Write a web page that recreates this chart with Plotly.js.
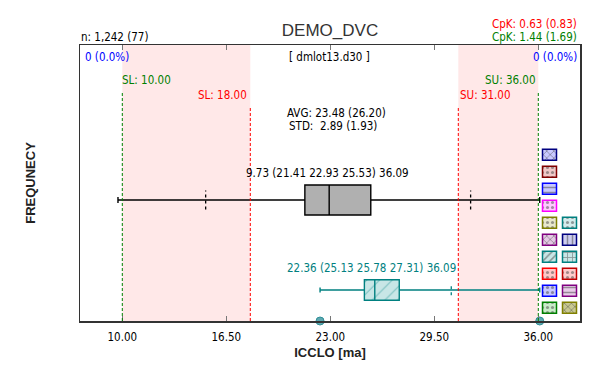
<!DOCTYPE html>
<html><head><meta charset="utf-8">
<script src="https://cdn.plot.ly/plotly-3.0.1.min.js"></script>
<style>html,body{margin:0;padding:0;background:#fff}</style>
</head><body>
<div id="chart" style="width:599px;height:370px"></div>
<script>
// ---------- data ----------
const chartTitle = 'DEMO_DVC';
const xAxisTitle = 'ICCLO [ma]';
const yAxisTitle = 'FREQUNECY';
const xTickVals = [10, 16.5, 23, 29.5, 36];
const xTickText = ['10.00', '16.50', '23.00', '29.50', '36.00'];
const outerSpecs = [10, 36];      // SL / SU (green)
const innerSpecs = [18, 31];      // SL / SU (red)
const lowerFence = [9.73, 22.36];
const q1Vals = [21.41, 25.13];
const medianVals = [22.93, 25.78];
const q3Vals = [25.53, 27.31];
const upperFence = [36.09, 36.09];
const dashMarks1 = [15.21, 31.77];
const dashMarks2 = [30.56];
const axisPoints = [22.36, 36.09];
const avgVals = [23.48, 26.20];
const stdVals = [2.89, 1.93];
const cpkLow = [0.63, 0.83];
const cpkHigh = [1.44, 1.69];
const nTotal = '1,242';
const nLot = 77;
const outCounts = ['0 (0.0%)', '0 (0.0%)'];
const lotName = '[ dmlot13.d30 ]';
// swatch grid (decorative legend cells)
const swatchCol = [0, 0, 0, 0, 0, 1, 0, 1, 0, 1, 0, 1, 0, 1, 0, 1];
const swatchRow = [0, 1, 2, 3, 4, 4, 5, 5, 6, 6, 7, 7, 8, 8, 9, 9];
const swatchLine = ['#000080', '#800000', '#0000ff', '#ff00ff', '#808000', '#008080', '#800080', '#000080', '#008080', '#008080', '#ff0000', '#c00000', '#0000ff', '#800080', '#008000', '#808000'];
const swatchFg = ['#2020c0', '#a00000', '#0000ff', '#ff00ff', '#808000', '#008080', '#800080', '#000080', '#008080', '#008080', '#ff0000', '#c00000', '#0000ff', '#800080', '#008000', '#808000'];
const swatchBg = ['#c8c8ff', '#f0c8c8', '#c8c8ff', '#ffc8ff', '#e8e8cc', '#d4ecec', '#e4c8e4', '#ccccf0', '#c8e6e6', '#c8e6e6', '#ffc8c8', '#ffcccc', '#c8c8ff', '#e8cce8', '#c8ecc8', '#c8c890'];
const swatchShape = ['x', '.', '-', '.', '.', '.', 'x', '|', '/', '+', '.', '.', '.', '-', '.', 'x'];

// ---------- style ----------
const SMALL = '"DejaVu Sans Condensed", "DejaVu Sans", sans-serif';
const BOLD = '"Liberation Sans", Arial, sans-serif';
const GREEN = '#008000', RED = '#ff0000', TEAL = '#008080', BLUE = '#0000ff';
const boxPos = [0.4384, 0.1123];
const boxWidth = [0.1087, 0.0743];
const markFrac = [0.63, 0.5];

const f2 = v => v.toFixed(2);
const statText = i => `${f2(lowerFence[i])} (${f2(q1Vals[i])} ${f2(medianVals[i])} ${f2(q3Vals[i])}) ${f2(upperFence[i])}`;

function dashPath(vals, pos, h) {
  const xs = [], ys = [];
  vals.forEach(v => { xs.push(v, v, null); ys.push(pos - h / 2, pos + h / 2, null); });
  return {x: xs, y: ys};
}
const d1 = dashPath(dashMarks1, boxPos[0], boxWidth[0] * markFrac[0]);
const d2 = dashPath(dashMarks2, boxPos[1], boxWidth[1] * markFrac[1]);

const traces = [
  // patterned fill for teal box
  {type: 'bar', orientation: 'h', y: [boxPos[1]], base: [q1Vals[1]], x: [q3Vals[1] - q1Vals[1]],
   width: boxWidth[1], xaxis: 'x', yaxis: 'y', hoverinfo: 'skip',
   marker: {color: '#c8e6e6', line: {width: 0},
            pattern: {shape: '/', fgcolor: '#2a9696', size: 9, solidity: 0.12, fillmode: 'overlay'}}},
  {type: 'box', orientation: 'h', y: [boxPos[0]], q1: [q1Vals[0]], median: [medianVals[0]], q3: [q3Vals[0]],
   lowerfence: [lowerFence[0]], upperfence: [upperFence[0]], width: boxWidth[0], whiskerwidth: 0.2,
   boxpoints: false, fillcolor: '#b0b0b0', line: {color: '#000', width: 1.4}, hoverinfo: 'skip'},
  {type: 'box', orientation: 'h', y: [boxPos[1]], q1: [q1Vals[1]], median: [medianVals[1]], q3: [q3Vals[1]],
   lowerfence: [lowerFence[1]], upperfence: [upperFence[1]], width: boxWidth[1], whiskerwidth: 0.25,
   boxpoints: false, fillcolor: 'rgba(0,0,0,0)', line: {color: TEAL, width: 1.4}, hoverinfo: 'skip'},
  {type: 'scatter', mode: 'lines', x: d1.x, y: d1.y, line: {color: '#000', width: 1.3, dash: '3px,3px'}, hoverinfo: 'skip'},
  {type: 'scatter', mode: 'lines', x: d2.x, y: d2.y, line: {color: TEAL, width: 1.3, dash: '3px,3px'}, hoverinfo: 'skip'},
  {type: 'scatter', mode: 'markers', x: axisPoints, y: axisPoints.map(() => 0), cliponaxis: false,
   marker: {size: 8, color: '#5ea8b0', line: {color: '#2f8f98', width: 1}}, hoverinfo: 'skip'},
  // swatches
  {type: 'bar', x: swatchCol, base: swatchRow.map(r => r - 0.3235), y: swatchRow.map(() => 0.647),
   width: 0.7, xaxis: 'x2', yaxis: 'y2', hoverinfo: 'skip',
   marker: {color: swatchBg, line: {color: swatchLine, width: 1.5},
            pattern: {shape: swatchShape, fgcolor: swatchFg, size: 5, solidity: 0.3, fillmode: 'overlay'}}}
];

const shapes = [];
[[outerSpecs[0], innerSpecs[0]], [innerSpecs[1], outerSpecs[1]]].forEach(([a, b]) => {
  shapes.push({type: 'rect', xref: 'x', yref: 'paper', x0: a, x1: b, y0: 0, y1: 1,
               fillcolor: '#ffe8e8', line: {width: 0}, layer: 'below'});
});
outerSpecs.forEach(v => shapes.push({type: 'line', xref: 'x', yref: 'paper', x0: v, x1: v, y0: 0, y1: 0.83,
  line: {color: GREEN, width: 1, dash: '3px,2px'}, layer: 'above'}));
innerSpecs.forEach(v => shapes.push({type: 'line', xref: 'x', yref: 'paper', x0: v, x1: v, y0: 0, y1: 0.775,
  line: {color: RED, width: 1, dash: '3px,2px'}, layer: 'above'}));

const ann = (o) => Object.assign({showarrow: false, xref: 'paper', yref: 'paper', yanchor: 'middle',
  font: {family: SMALL, size: 11.5, color: '#000'}}, o);
const annotations = [
  ann({text: `n: ${nTotal} (${nLot})`, x: -0.002, xanchor: 'left', y: 1.029}),
  ann({text: `CpK: ${f2(cpkLow[0])} (${f2(cpkLow[1])})`, x: 0.998, xanchor: 'right', y: 1.0761, font: {family: SMALL, size: 11.5, color: RED}}),
  ann({text: `CpK: ${f2(cpkHigh[0])} (${f2(cpkHigh[1])})`, x: 0.998, xanchor: 'right', y: 1.029, font: {family: SMALL, size: 11.5, color: GREEN}}),
  ann({text: outCounts[0], x: 0.0054, xanchor: 'left', y: 0.9565, font: {family: SMALL, size: 11.5, color: BLUE}}),
  ann({text: outCounts[1], x: 0.997, xanchor: 'right', y: 0.9565, font: {family: SMALL, size: 11.5, color: BLUE}}),
  ann({text: lotName, x: 0.499, xanchor: 'center', y: 0.9565}),
  ann({text: `SL: ${f2(outerSpecs[0])}`, xref: 'x', x: outerSpecs[0], xanchor: 'left', xshift: -2, y: 0.873, font: {family: SMALL, size: 11.5, color: GREEN}}),
  ann({text: `SU: ${f2(outerSpecs[1])}`, xref: 'x', x: outerSpecs[1], xanchor: 'right', y: 0.873, font: {family: SMALL, size: 11.5, color: GREEN}}),
  ann({text: `SL: ${f2(innerSpecs[0])}`, xref: 'x', x: innerSpecs[0], xanchor: 'right', xshift: -1, y: 0.819, font: {family: SMALL, size: 11.5, color: RED}}),
  ann({text: `SU: ${f2(innerSpecs[1])}`, xref: 'x', x: innerSpecs[1], xanchor: 'left', y: 0.819, font: {family: SMALL, size: 11.5, color: RED}}),
  ann({text: `AVG: ${f2(avgVals[0])} (${f2(avgVals[1])})`, x: 0.41, xanchor: 'left', y: 0.7536}),
  ann({text: `STD:\u00a0\u00a0${f2(stdVals[0])} (${f2(stdVals[1])})`, x: 0.414, xanchor: 'left', y: 0.7065}),
  ann({text: statText(0), x: 0.3274, xanchor: 'left', y: 0.536}),
  ann({text: statText(1), x: 0.4106, xanchor: 'left', y: 0.192, font: {family: SMALL, size: 11.5, color: TEAL}})
];

const layout = {
  width: 599, height: 370,
  margin: {l: 80, r: 19, t: 45, b: 49},
  paper_bgcolor: '#fff', plot_bgcolor: '#fff',
  showlegend: false, barmode: 'overlay', boxmode: 'overlay',
  font: {family: SMALL, size: 11.5, color: '#000'},
  title: {text: chartTitle, font: {family: BOLD, size: 17, color: '#333'},
          xref: 'paper', x: 0.5, xanchor: 'center', yref: 'container', y: 1 - 30 / 370, yanchor: 'middle'},
  xaxis: {range: [7.356, 38.606], tickmode: 'array', tickvals: xTickVals, ticktext: xTickText,
          ticks: 'inside', ticklen: 5, tickwidth: 1, tickcolor: '#777', mirror: 'allticks',
          showline: true, linecolor: '#333', linewidth: 1.5, showgrid: false, zeroline: false,
          ticklabelstandoff: 5,
          tickfont: {family: SMALL, size: 11.5, color: '#000'},
          title: {text: xAxisTitle, font: {family: BOLD, size: 13, weight: 'bold', color: '#222'}, standoff: 4}},
  yaxis: {range: [0, 1], showticklabels: false, ticks: '', showline: true, mirror: true,
          linecolor: '#333', linewidth: 1.5, showgrid: false, zeroline: false,
          title: {text: yAxisTitle, font: {family: BOLD, size: 13, weight: 'bold', color: '#222'}, standoff: 40}},
  xaxis2: {overlaying: 'x', anchor: 'y2', range: [-23.475, 1.525], visible: false},
  yaxis2: {overlaying: 'y', anchor: 'x2', range: [9.776, -6.459], visible: false},
  shapes: shapes,
  annotations: annotations
};

Plotly.newPlot('chart', traces, layout, {displayModeBar: false, staticPlot: true});
</script>
</body></html>
